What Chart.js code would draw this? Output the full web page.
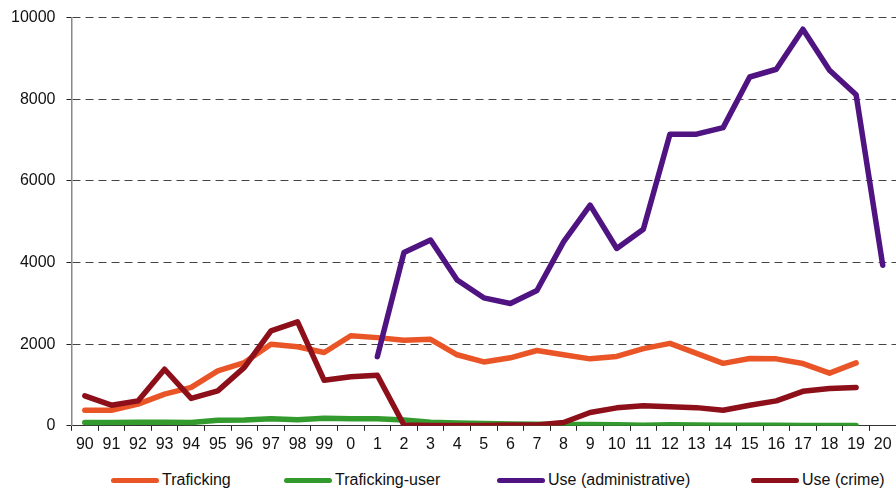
<!DOCTYPE html>
<html>
<head>
<meta charset="utf-8">
<script src="https://cdn.jsdelivr.net/npm/chart.js@4/dist/chart.umd.min.js"></script>
<style>
  html, body { margin: 0; padding: 0; background: #fff; overflow: hidden; }
  #wrap { position: relative; width: 896px; height: 461px; margin-top: -3px; }
  #legend { position: relative; width: 896px; height: 33px; font: 16px "Liberation Sans", Arial, sans-serif; color: #111; }
  .item { position: absolute; top: 12px; display: flex; align-items: center; height: 20px; }
  .item .mk { width: 48px; height: 5px; border-radius: 3px; margin-right: 3px; }
</style>
</head>
<body>
<div id="wrap"><canvas id="chart"></canvas></div>
<div id="legend"></div>
<script>
// years, 1990 .. 2020
var years = ['90','91','92','93','94','95','96','97','98','99',
             '0','1','2','3','4','5','6','7','8','9',
             '10','11','12','13','14','15','16','17','18','19','20'];

var traficking = [380,380,530,775,940,1345,1550,2000,1935,1795,
                  2205,2160,2095,2120,1740,1565,1665,1845,1740,1640,
                  1700,1890,2020,1775,1530,1650,1640,1525,1290,1540,null];

var traficking_user = [80,80,85,85,80,135,145,175,150,185,
                       170,170,145,90,70,55,45,35,30,30,
                       25,15,25,20,15,15,15,10,10,10,null];

var use_admin = [null,null,null,null,null,null,null,null,null,null,
                 null,1695,4245,4550,3570,3135,2995,3315,4505,5405,
                 4345,4815,7145,7145,7305,8545,8735,9715,8710,8110,3935];

var use_crime = [735,505,610,1385,670,855,1430,2325,2545,1115,
                 1200,1240,20,10,10,10,20,20,80,325,
                 440,490,465,445,380,505,610,845,915,940,null];

var series_names = ['Traficking', 'Traficking-user', 'Use (administrative)', 'Use (crime)'];
var y_ticks = [0, 2000, 4000, 6000, 8000, 10000];

var COLORS = ['#EA5528', '#339A2D', '#501482', '#8C0F19'];
var all_series = [traficking, traficking_user, use_admin, use_crime];

var FONT = { family: '"Liberation Sans", Arial, sans-serif', size: 16 };

var datasets = all_series.map(function (d, i) {
    return {
        label: series_names[i],
        data: d,
        borderColor: COLORS[i],
        backgroundColor: COLORS[i],
        borderWidth: 5.5,
        borderCapStyle: 'round',
        borderJoinStyle: 'round',
        pointRadius: 0,
        tension: 0,
        spanGaps: false,
        order: 4 - i
    };
});

var ctx = document.getElementById('chart');
new Chart(ctx, {
    type: 'line',
    data: { labels: years, datasets: datasets },
    options: {
        responsive: true,
        maintainAspectRatio: false,
        animation: false,
        layout: { padding: { top: 3, left: 0, right: 0, bottom: 0 } },
        plugins: { legend: { display: false }, tooltip: { enabled: false } },
        scales: {
            x: {
                offset: true,
                grid: {
                    offset: true,
                    drawOnChartArea: false,
                    drawTicks: true,
                    tickLength: 5,
                    tickColor: '#222',
                    color: '#222'
                },
                border: { color: '#333', width: 1 },
                ticks: { font: FONT, color: '#111', padding: 4, maxRotation: 0, autoSkip: false }
            },
            y: {
                min: 0,
                max: 10000,
                afterBuildTicks: function (axis) {
                    axis.ticks = y_ticks.map(function (v) { return { value: v }; });
                },
                grid: {
                    color: '#444',
                    lineWidth: 1,
                    tickLength: 5,
                    tickColor: '#222',
                    tickBorderDash: []
                },
                border: { color: '#888', width: 1.5, dash: [8, 5] },
                ticks: {
                    font: FONT, color: '#111', padding: 11,
                    callback: function (v) { return String(v); }
                }
            }
        }
    }
});

// legend below the plot
var legend = document.getElementById('legend');
var legend_left = [111, 284, 497, 751];
series_names.forEach(function (name, i) {
    var it = document.createElement('div');
    it.className = 'item';
    it.style.left = legend_left[i] + 'px';
    it.innerHTML = '<span class="mk" style="background:' + COLORS[i] + '"></span><span>' + name + '</span>';
    legend.appendChild(it);
});
</script>
</body>
</html>
